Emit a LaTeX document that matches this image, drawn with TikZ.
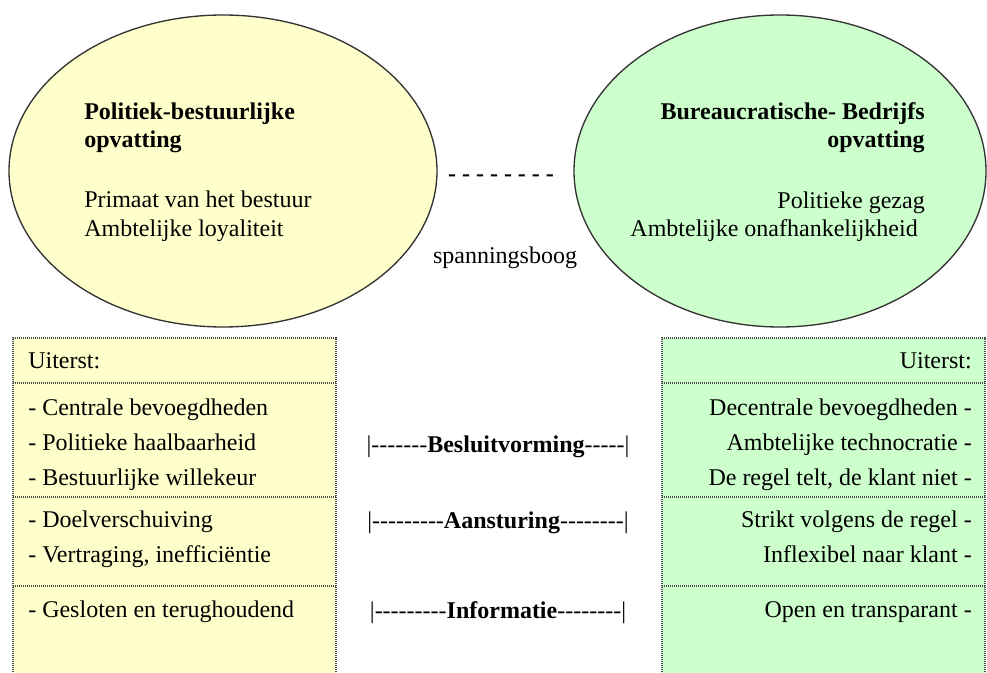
\documentclass[tikz,border=0pt]{standalone}
\usepackage{fontspec}
\setmainfont{Liberation Serif}
\usetikzlibrary{shapes.geometric}
\definecolor{geel}{HTML}{FFFFCC}
\definecolor{groen}{HTML}{CCFFCC}
\newcommand{\strepen}[1]{\foreach \i in {1,...,#1}{-{}}}

\begin{document}
\begin{tikzpicture}[x=0.75pt, y=-0.75pt, font=\fontsize{18}{21}\selectfont,
    ovaal/.style={ellipse, draw=black!80, line width=1pt, inner sep=0pt, minimum height=234pt},
    kader/.style={draw=black!70, line width=1.1pt, dash pattern=on 0.8pt off 0.7pt},
    regel/.style={inner sep=0pt}]
    \useasboundingbox (0,0) rectangle (987,673);
    % de twee opvattingen
    \node[ovaal, fill=geel, minimum width=321pt] (polL) at (223,171) {};
    \node[ovaal, fill=groen, minimum width=309pt] (burR) at (780,171) {};
    \node[regel, anchor=base west] (polT1) at (84,120) {\textbf{Politiek-bestuurlijke}};
    \node[regel, anchor=base west] (polT2) at (84,148) {\textbf{opvatting}};
    \node[regel, anchor=base west] (polT3) at (84,208) {Primaat van het bestuur};
    \node[regel, anchor=base west] (polT4) at (84,237) {Ambtelijke loyaliteit};
    \node[regel, anchor=base east] (burT1) at (925,120) {\textbf{Bureaucratische- Bedrijfs}};
    \node[regel, anchor=base east] (burT2) at (925,148) {\textbf{opvatting}};
    \node[regel, anchor=base east] (burT3) at (925,209) {Politieke gezag};
    \node[regel, anchor=base east] (burT4) at (918,237) {Ambtelijke onafhankelijkheid};
    \node[regel, anchor=base] (streep) at (501,182) {\textbf{- - - - - - - -}};
    \node[regel, anchor=base] (boog) at (505,263) {spanningsboog};
    % de kaders
    \fill[geel] (13,338) rectangle (336,680);
    \fill[groen] (662,338) rectangle (985,680);
    \draw[kader] (13,680) -- (13,338) -- (336,338) -- (336,680);
    \draw[kader] (662,680) -- (662,338) -- (985,338) -- (985,680);
    \foreach \y in {383, 497, 586} {
      \draw[kader] (13,\y) -- (336,\y);
      \draw[kader] (662,\y) -- (985,\y);
    }
    % links
    \node[regel, anchor=base west] (l0) at (28,368) {Uiterst:};
    \foreach \y/\t in {415/Centrale bevoegdheden, 450/Politieke haalbaarheid,
        485/Bestuurlijke willekeur, 527/Doelverschuiving,
        562/{Vertraging, inefficiëntie}, 617/Gesloten en terughoudend}
      \node[regel, anchor=base west] (l\y) at (28,\y) {- \t};
    % rechts
    \node[regel, anchor=base east] (r0) at (972,368) {Uiterst:};
    \foreach \y/\t in {415/Decentrale bevoegdheden, 450/Ambtelijke technocratie,
        485/{De regel telt, de klant niet}, 527/Strikt volgens de regel,
        562/Inflexibel naar klant, 617/Open en transparant}
      \node[regel, anchor=base east] (r\y) at (972,\y) {\t\ -};
    % midden
    \node[regel, anchor=base] (besl) at (498,452) {|\strepen{7}\textbf{Besluitvorming}\strepen{5}|};
    \node[regel, anchor=base] (aans) at (498,528) {|\strepen{9}\textbf{Aansturing}\strepen{8}|};
    \node[regel, anchor=base] (info) at (498,618) {|\strepen{9}\textbf{Informatie}\strepen{8}|};
  \end{tikzpicture}
\end{document}
